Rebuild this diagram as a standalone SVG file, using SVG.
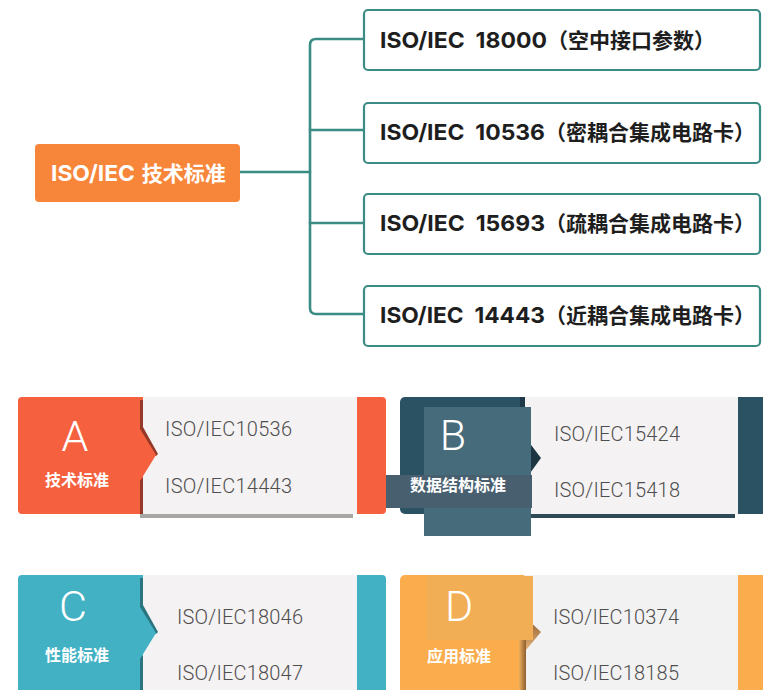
<svg xmlns="http://www.w3.org/2000/svg" width="763" height="690" viewBox="0 0 763 690">
<defs>
<style>
.box{fill:#FFFFFF;stroke:#3B8C84;stroke-width:2.2}
.conn{fill:none;stroke:#3B8C84;stroke-width:2.6;stroke-linecap:round;stroke-linejoin:round}
.bt{font-family:"Noto Sans CJK SC","Noto Sans",sans-serif;font-weight:700;font-size:21px;fill:#1E1E1E;white-space:pre}
.lat{font-family:Inter,"Noto Sans",sans-serif;font-weight:700;font-size:22px}
.rt{fill:#FFFFFF}
.big{font-family:Roboto,"Noto Sans",sans-serif;font-weight:300;font-size:43px;fill:#FFFFFF;text-anchor:middle}
.lbl{font-family:"Noto Sans CJK SC","Noto Sans",sans-serif;font-weight:700;font-size:16px;fill:#FFFFFF;text-anchor:middle}
.pt{font-family:Roboto,"Noto Sans",sans-serif;font-weight:300;font-size:20px;fill:#4E4E4E}
.panel{fill:#F5F2F3}
</style>
<linearGradient id="gD" x1="0" y1="0" x2="1" y2="0">
<stop offset="0" stop-color="#EDAE5E"/>
<stop offset="1" stop-color="#8E5E2E"/>
</linearGradient>
<linearGradient id="gDn" x1="0" y1="0" x2="0" y2="1">
<stop offset="0" stop-color="#8A5A2C"/>
<stop offset="1" stop-color="#E6B47A"/>
</linearGradient>
</defs>

<g id="connectors">
<path class="conn" d="M240,172 H310"/>
<path class="conn" d="M364,39 H316 Q310,39 310,45 V308 Q310,314 316,314 H364"/>
<path class="conn" d="M310,130 H364"/>
<path class="conn" d="M310,223 H364"/>
</g>

<g id="root">
<rect x="35" y="144" width="205" height="58" rx="4" fill="#F8863A"/>
<text class="bt rt" y="181"><tspan class="lat" x="51" textLength="84" lengthAdjust="spacingAndGlyphs">ISO/IEC</tspan><tspan x="137"> 技术标准</tspan></text>
</g>

<g id="n18000">
<rect class="box" x="364" y="10" width="396" height="60" rx="4"/>
<text class="bt" y="48"><tspan class="lat" x="380" textLength="167" lengthAdjust="spacingAndGlyphs">ISO/IEC  18000</tspan><tspan x="547">（空中接口参数）</tspan></text>
</g>
<g id="n10536">
<rect class="box" x="364" y="103" width="396" height="60" rx="4"/>
<text class="bt" y="139.5"><tspan class="lat" x="380" textLength="165" lengthAdjust="spacingAndGlyphs">ISO/IEC  10536</tspan><tspan x="545">（密耦合集成电路卡）</tspan></text>
</g>
<g id="n15693">
<rect class="box" x="364" y="194" width="396" height="60" rx="4"/>
<text class="bt" y="231"><tspan class="lat" x="380" textLength="165" lengthAdjust="spacingAndGlyphs">ISO/IEC  15693</tspan><tspan x="545">（疏耦合集成电路卡）</tspan></text>
</g>
<g id="n14443">
<rect class="box" x="364" y="286" width="396" height="60" rx="4"/>
<text class="bt" y="323"><tspan class="lat" x="380" textLength="165" lengthAdjust="spacingAndGlyphs">ISO/IEC  14443</tspan><tspan x="545">（近耦合集成电路卡）</tspan></text>
</g>

<g id="card-a">
<rect x="18" y="397" width="368" height="117" rx="4" fill="#F5613F"/>
<rect x="140" y="514" width="213" height="4" fill="#A8A5A5"/>
<rect class="panel" x="143" y="397" width="214" height="117"/>
<polygon points="128,400 143,400 143,427 158,454 156,456 128,456" fill="#943828"/>
<rect x="140" y="478" width="3" height="36" fill="#943828"/>
<polygon points="128,397 140,397 140,429 156,455 140,481 140,514 128,514" fill="#F5613F"/>
<text class="big" x="75" y="451">A</text>
<text class="lbl" x="77" y="486">技术标准</text>
<text class="pt" x="165" y="436" textLength="127">ISO/IEC10536</text>
<text class="pt" x="165" y="493" textLength="127">ISO/IEC14443</text>
</g>

<g id="card-b">
<rect x="400" y="397" width="370" height="117" rx="5" fill="#2B5263"/>
<rect x="529" y="514" width="206" height="4" fill="#2F4A57"/>
<rect class="panel" x="525" y="397" width="213" height="117"/>
<rect x="520" y="397" width="5" height="20" fill="#1E3A47"/>
<polygon points="525,437 541,458 525,480" fill="#1E3642"/>
<rect x="424" y="407" width="107" height="129" fill="#466B7A"/>
<rect x="386" y="475" width="146" height="33" fill="#475F6F"/>
<text class="big" x="453" y="450">B</text>
<text class="lbl" x="458" y="491">数据结构标准</text>
<text class="pt" x="554" y="441" textLength="126">ISO/IEC15424</text>
<text class="pt" x="554" y="497" textLength="126">ISO/IEC15418</text>
</g>

<g id="card-c">
<rect x="18" y="575" width="368" height="130" rx="4" fill="#43B1C4"/>
<rect class="panel" x="143" y="575" width="214" height="130"/>
<polygon points="128,578 143,578 143,605 158,632 156,634 128,634" fill="#2B7581"/>
<rect x="140" y="656" width="3" height="40" fill="#2B7581"/>
<polygon points="128,575 140,575 140,607 156,633 140,659 140,692 128,692" fill="#43B1C4"/>
<text class="big" x="73" y="621">C</text>
<text class="lbl" x="77" y="661">性能标准</text>
<text class="pt" x="177" y="624" textLength="126">ISO/IEC18046</text>
<text class="pt" x="177" y="680" textLength="126">ISO/IEC18047</text>
</g>

<g id="card-d">
<rect x="400" y="575" width="370" height="130" rx="5" fill="#FBAC4C"/>
<rect x="524" y="575" width="214" height="130" fill="#F3F2F2"/>
<polygon points="526,618 541,632 526,650" fill="url(#gDn)"/>
<rect x="519" y="640" width="7" height="60" fill="url(#gD)"/>
<rect x="427" y="576" width="106" height="64" fill="#F2AE55"/>
<text class="big" x="459" y="621">D</text>
<text class="lbl" x="459" y="662">应用标准</text>
<text class="pt" x="553" y="624" textLength="126">ISO/IEC10374</text>
<text class="pt" x="553" y="680" textLength="126">ISO/IEC18185</text>
</g>
</svg>
